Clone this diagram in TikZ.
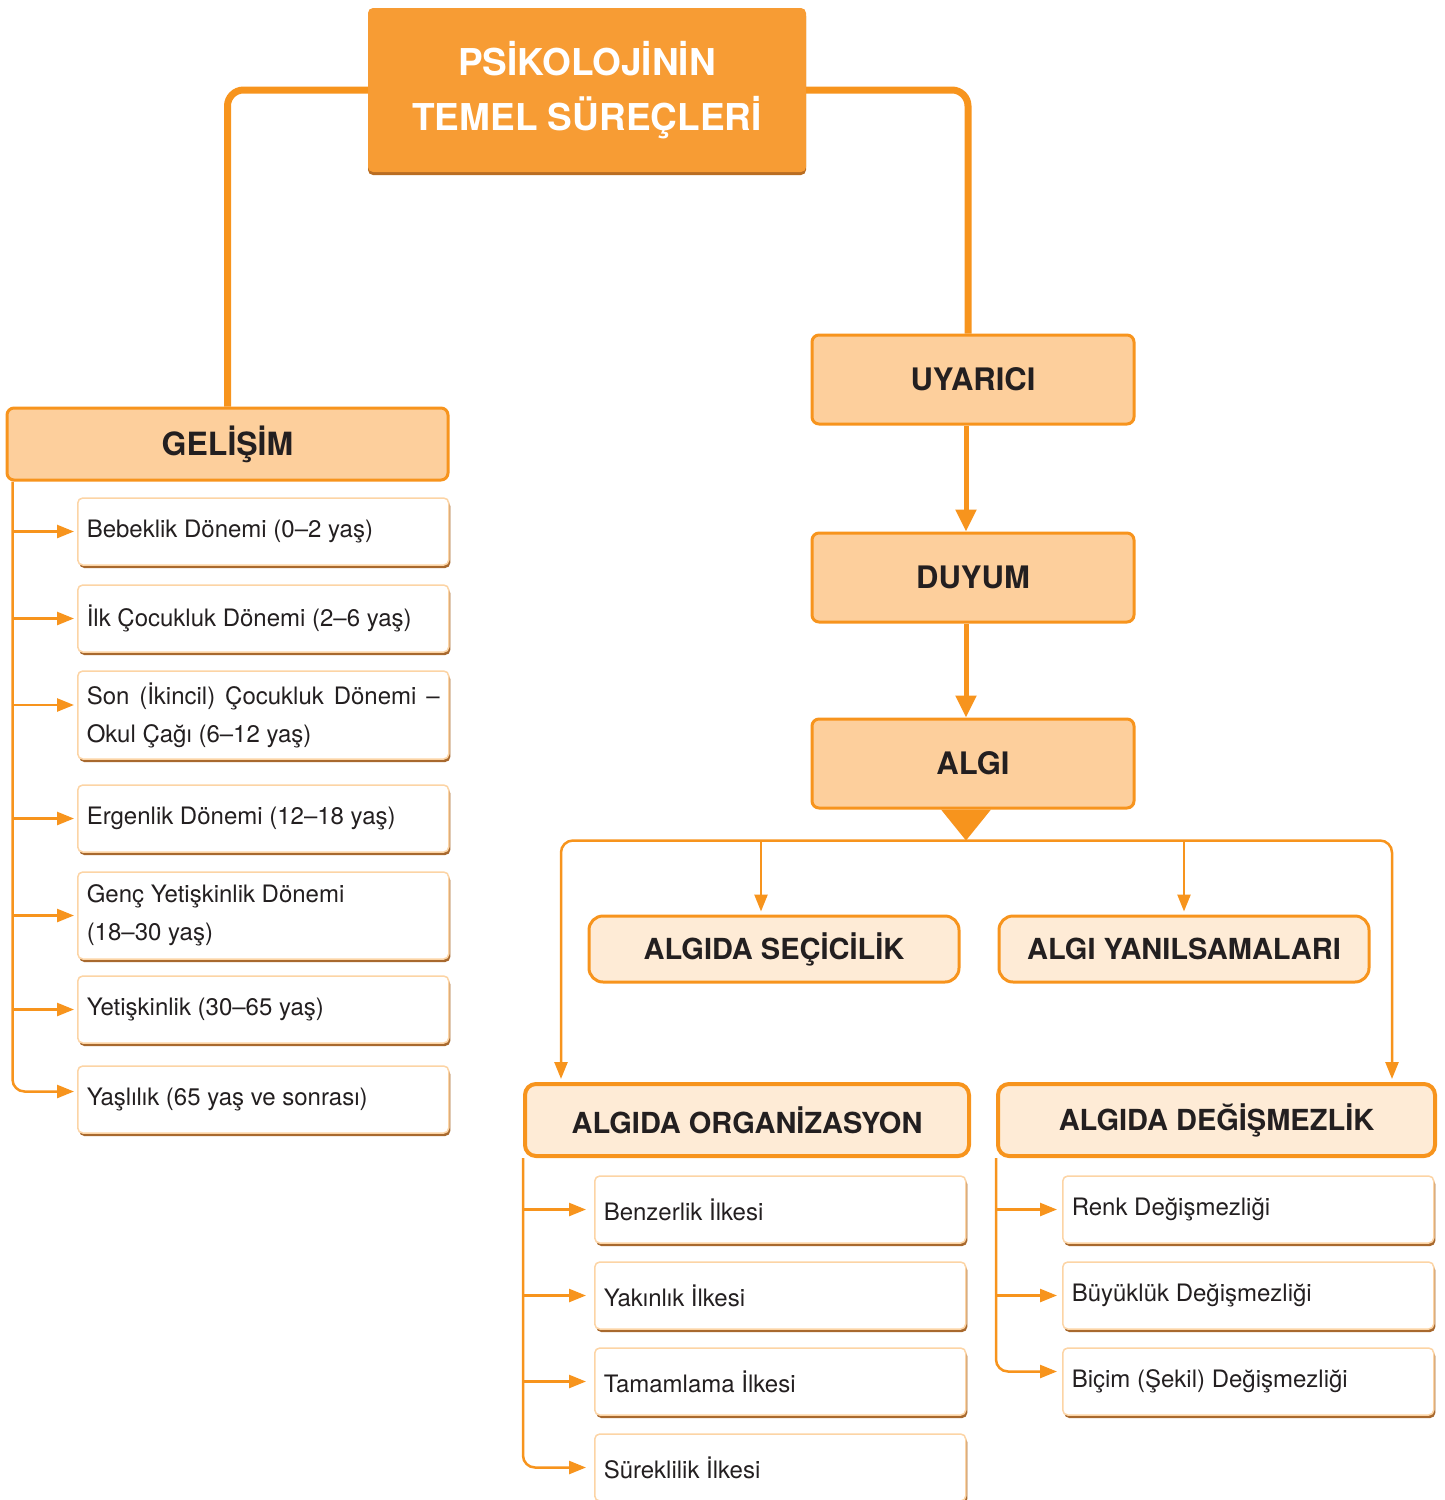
\documentclass[tikz,border=0pt]{standalone}
\usepackage{fontspec}
\setmainfont{TeX Gyre Heros}
\usetikzlibrary{arrows.meta,shadows,positioning}
\definecolor{orline}{HTML}{F7941D}
\definecolor{ortop}{HTML}{F79C34}
\definecolor{orlight}{HTML}{FDCF9C}
\definecolor{orpale}{HTML}{FEEBD6}
\definecolor{inktext}{HTML}{231F20}
\definecolor{itemshade}{HTML}{A8692E}
\definecolor{topshade}{HTML}{B96D22}

\begin{document}
\begin{tikzpicture}[x=1pt, y=1pt, every node/.style={text=inktext},
    topbox/.style={rectangle, rounded corners=5pt, fill=ortop, text=white, align=center, font=\bfseries\fontsize{37}{55}\selectfont, minimum width=438pt, minimum height=164pt, drop shadow={shadow xshift=0pt, shadow yshift=-3pt, fill=topshade, opacity=1}},
    stage/.style={rectangle, draw=orline, line width=3pt, rounded corners=7pt, fill=orlight, font=\bfseries\fontsize{31}{36}\selectfont, minimum width=322pt, minimum height=89pt},
    branch/.style={rectangle, draw=orline, line width=3pt, rounded corners=14pt, fill=orpale, font=\bfseries\fontsize{29}{34}\selectfont, minimum width=370pt, minimum height=66pt},
    group/.style={branch, line width=4pt, rounded corners=11pt, minimum height=72pt},
    item/.style={rectangle, draw=orline!40, line width=1.5pt, rounded corners=5pt, fill=white, text width=353pt, inner xsep=9pt, inner ysep=0pt, minimum height=67pt, align=justify, font=\fontsize{24}{38}\selectfont, drop shadow={shadow xshift=1.5pt, shadow yshift=-3pt, fill=itemshade, opacity=1}},
    trunk/.style={draw=orline, line width=7pt, rounded corners=16pt},
    flow/.style={draw=orline, line width=5pt, -{Triangle[length=22pt, width=20pt]}},
    feed/.style={draw=orline, line width=2.5pt, shorten >=3pt, -{Triangle[length=17pt, width=13pt]}},
    feedr/.style={feed, rounded corners=12pt}]
    \useasboundingbox (0,0) rectangle (1445,-1500);

    % main boxes
    \node[topbox] (top) at (587,-90) {PSİKOLOJİNİN\\TEMEL SÜREÇLERİ};
    \node[stage, minimum width=441pt, minimum height=72pt, font=\bfseries\fontsize{32}{36}\selectfont] (gel) at (227.5,-444) {GELİŞİM};
    \node[stage] (uya) at (973,-379.5) {UYARICI};
    \node[stage] (duy) at (973,-577.5) {DUYUM};
    \node[stage] (alg) at (973,-763.5) {ALGI};
    \node[branch] (sec) at (774,-949) {ALGIDA SEÇİCİLİK};
    \node[branch] (yan) at (1184,-949) {ALGI YANILSAMALARI};
    \node[group, minimum width=444pt] (org) at (747,-1120) {ALGIDA ORGANİZASYON};
    \node[group, minimum width=437pt] (deg) at (1216.5,-1120) {ALGIDA DEĞİŞMEZLİK};

    % development stages
    \node[item, anchor=west] (g1) at (77,-531.5) {Bebeklik Dönemi (0–2 yaş)};
    \node[item, below=18.5pt of g1] (g2) {İlk Çocukluk Dönemi (2–6 yaş)};
    \node[item, below=17.5pt of g2, minimum height=88pt] (g3) {Son (İkincil) Çocukluk Dönemi –\linebreak Okul Çağı (6–12 yaş)};
    \node[item, below=24.5pt of g3] (g4) {Ergenlik Dönemi (12–18 yaş)};
    \node[item, below=18.5pt of g4, minimum height=87pt] (g5) {Genç Yetişkinlik Dönemi\\(18–30 yaş)};
    \node[item, below=15.5pt of g5] (g6) {Yetişkinlik (30–65 yaş)};
    \node[item, below=21.5pt of g6] (g7) {Yaşlılık (65 yaş ve sonrası)};

    % organisation principles
    \node[item, anchor=west] (o1) at (594,-1209.5) {Benzerlik İlkesi};
    \node[item, below=17.5pt of o1] (o2) {Yakınlık İlkesi};
    \node[item, below=17.5pt of o2] (o3) {Tamamlama İlkesi};
    \node[item, below=17.5pt of o3] (o4) {Süreklilik İlkesi};

    % constancies
    \node[item, anchor=west] (d1) at (1062,-1209.5) {Renk Değişmezliği};
    \node[item, below=17.5pt of d1] (d2) {Büyüklük Değişmezliği};
    \node[item, below=17.5pt of d2] (d3) {Biçim (Şekil) Değişmezliği};

    % connectors from the title
    \draw[trunk] (top.west) -| (gel.north);
    \draw[trunk] (top.east) -| ([xshift=-5pt]uya.north);

    % perception chain
    \draw[flow] ([xshift=-7pt]uya.south) -- ([xshift=-7pt]duy.north);
    \draw[flow] ([xshift=-7pt]duy.south) -- ([xshift=-7pt]alg.north);
    \fill[orline] ([xshift=-32pt]alg.south) -- ([xshift=18pt]alg.south) -- ([xshift=-7pt,yshift=-31pt]alg.south) -- cycle;
    \coordinate (bus) at ([xshift=-7pt,yshift=-31pt]alg.south);
    \draw[feedr] (bus) -| ([xshift=-186pt]org.north);
    \draw[feedr] (bus) -| ([xshift=175.5pt]deg.north);
    \draw[feed] ([xshift=-13pt]sec.north |- bus) -- ([xshift=-13pt]sec.north);
    \draw[feed] (yan.north |- bus) -- (yan.north);

    % stage list
    \coordinate (gtr) at ([xshift=7pt]gel.south west);
    \foreach \n/\s in {g1/0, g2/0, g3/10, g4/0, g5/0, g6/0}
        \draw[feed] ([yshift=\s pt]\n.west -| gtr) -- ([yshift=\s pt]\n.west);
    \draw[feedr] (gtr) |- ([yshift=8pt]g7.west);

    % principle lists
    \foreach \n in {o1, o2, o3}
        \draw[feed, shorten >=8pt] (\n.west -| org.south west) -- (\n.west);
    \draw[feedr, shorten >=8pt] (org.south west) |- (o4.west);
    \foreach \n in {d1, d2}
        \draw[feed, shorten >=5pt] (\n.west -| deg.south west) -- (\n.west);
    \draw[feedr, shorten >=5pt] (deg.south west) |- ([yshift=10pt]d3.west);
\end{tikzpicture}
\end{document}
